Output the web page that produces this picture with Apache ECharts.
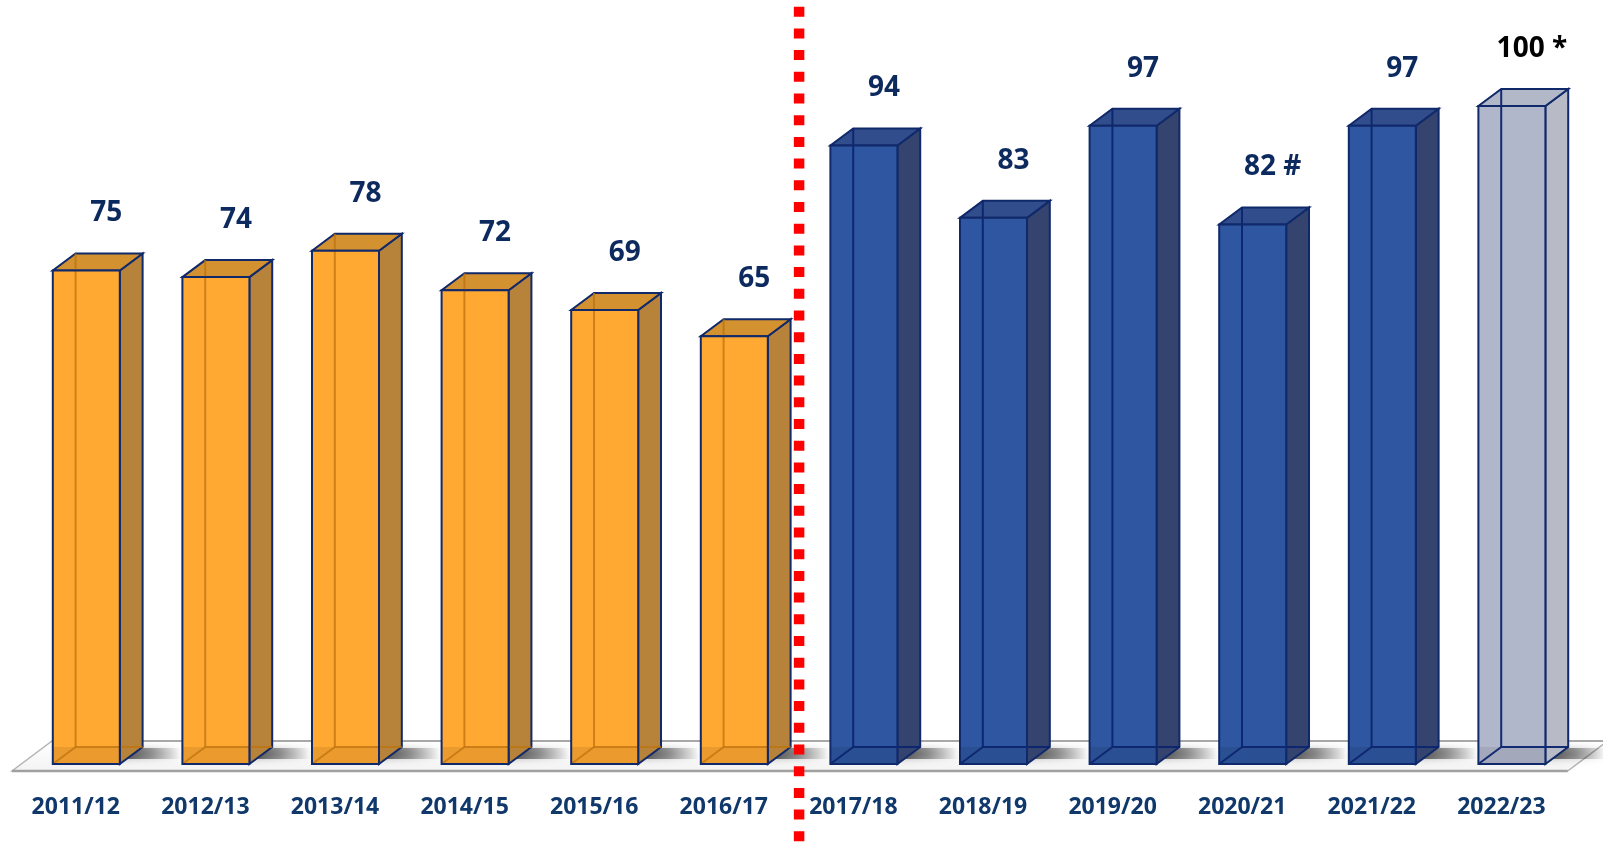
<!DOCTYPE html>
<html><head><meta charset="utf-8">
<script src="https://cdn.jsdelivr.net/npm/echarts@6/dist/echarts.min.js"></script>
<style>html,body{margin:0;padding:0;background:#fff}#c{width:1603px;height:851px}</style>
</head><body><div id="c"></div>
<script>
const categories = ['2011/12','2012/13','2013/14','2014/15','2015/16','2016/17','2017/18','2018/19','2019/20','2020/21','2021/22','2022/23'];
const values = [75, 74, 78, 72, 69, 65, 94, 83, 97, 82, 97, 100];
const valueLabels = ['75','74','78','72','69','65','94','83','97','82 #','97','100 *'];
const groups = ['old','old','old','old','old','old','new','new','new','new','new','est'];
const breakAfter = '2016/17';

const palette = {
  old: {front:'#FFA932', side:'#B7823A', top:'#D3912F', hidden:'rgba(190,115,15,0.75)', label:'#0D2A5F'},
  new: {front:'#2F56A0', side:'#34446F', top:'#314D8B', hidden:'rgba(10,35,110,0.9)', label:'#0D2A5F'},
  est: {front:'#B1B7CB', side:'#B8BBC6', top:'#B3B8C9', hidden:'rgba(10,35,110,0.95)', label:'#000000'}
};
const edge = '#10296A';
const FONT = '"Open Sans", Lato, sans-serif';

const chart = echarts.init(document.getElementById('c'));

function barItem(params, api){
  const i = api.value(0), v = api.value(1);
  const base = api.coord([i, 0]);
  const topP = api.coord([i, v]);
  const band = api.size([1, 0])[0];
  const w = band * 0.517, dx = band * 0.176, dy = -17;
  const x0 = base[0] - w/2, x1 = base[0] + w/2, yb = base[1], yt = topP[1];
  const p = palette[groups[i]];
  const line = (a,b,c,d,col,lw) => ({type:'line', shape:{x1:a,y1:b,x2:c,y2:d}, style:{stroke:col, lineWidth:lw||2}});
  return {type:'group', children:[
    {type:'rect', shape:{x:x1, y:yb+dy+1, width:dx+38, height:11},
     style:{fill:{type:'linear',x:0,y:0,x2:1,y2:0,colorStops:[{offset:0,color:'rgba(0,0,0,0.6)'},{offset:0.5,color:'rgba(0,0,0,0.35)'},{offset:1,color:'rgba(0,0,0,0)'}]},
            shadowBlur:7, shadowColor:'rgba(0,0,0,0.5)'}},
    {type:'polygon', shape:{points:[[x1,yb],[x1+dx,yb+dy],[x1+dx,yt+dy],[x1,yt]]}, style:{fill:p.side, stroke:edge, lineWidth:2}},
    {type:'polygon', shape:{points:[[x0,yt],[x1,yt],[x1+dx,yt+dy],[x0+dx,yt+dy]]}, style:{fill:p.top, stroke:edge, lineWidth:2}},
    {type:'rect', shape:{x:x0, y:yt, width:w, height:yb-yt}, style:{fill:p.front}},
    {type:'rect', shape:{x:x0, y:yb+dy, width:w, height:-dy}, style:{fill:'rgba(0,0,0,0.08)'}},
    line(x0+dx, yb+dy, x0+dx, yt+dy, p.hidden, 2),
    line(x0+dx, yb+dy, x1+dx, yb+dy, p.hidden, 2),
    line(x0, yb, x0+dx, yb+dy, p.hidden, 2),
    {type:'rect', shape:{x:x0, y:yt, width:w, height:yb-yt}, style:{fill:'none', stroke:edge, lineWidth:2}},
    {type:'text', style:{text:valueLabels[i], x:base[0]+20, y:yt-57, align:'center', verticalAlign:'middle',
      font:'bold 28px ' + FONT, fill:p.label}}
  ]};
}

function floorItem(params, api){
  const n = categories.length;
  const a = api.coord([0, 0]), b = api.coord([n-1, 0]);
  const band = api.size([1, 0])[0];
  const xl = a[0] - band/2 - 9.5, xr = b[0] + band/2 - 9;
  const yf = a[1] + 7, ybk = a[1] - 23, ddx = 40;
  return {type:'group', children:[
    {type:'polygon', shape:{points:[[xl,yf],[xr,yf],[xr+ddx,ybk],[xl+ddx,ybk]]},
     style:{fill:{type:'linear',x:0,y:0,x2:0,y2:1,colorStops:[{offset:0,color:'#ffffff'},{offset:1,color:'#f3f3f3'}]},
            stroke:'#B5B5B5', lineWidth:1.5}},
    {type:'line', shape:{x1:xl+ddx, y1:ybk, x2:xr+ddx, y2:ybk}, style:{stroke:'#A8A8A8', lineWidth:2}},
    {type:'line', shape:{x1:xl, y1:yf, x2:xr, y2:yf}, style:{stroke:'#A0A0A0', lineWidth:2.5}}
  ]};
}

function dividerItem(params, api){
  const k = categories.indexOf(breakAfter);
  const a = api.coord([k, 0]), b = api.coord([k+1, 0]);
  const x = (a[0] + b[0]) / 2;
  return {type:'line', shape:{x1:x, y1:0, x2:x, y2:api.getHeight()},
    style:{stroke:'#FF0000', lineWidth:10.5, lineDash:[10, 11.7], lineDashOffset:15}};
}

chart.setOption({
  animation:false,
  grid:{left:21.5, right:26.3, top:106, bottom:87},
  xAxis:{type:'category', data:categories,
    axisLine:{show:false}, axisTick:{show:false},
    axisLabel:{margin:31, color:'#11386B', fontFamily:FONT, fontWeight:'bold', fontSize:23, lineHeight:24, padding:[0,21,0,0], interval:0}},
  yAxis:{type:'value', min:0, max:100, show:false, splitLine:{show:false}},
  series:[
    {type:'custom', name:'floor', renderItem:floorItem, data:[[0,0]], z:1, clip:false, silent:true},
    {type:'custom', name:'bars', renderItem:barItem, data:values.map((v,i)=>[i,v]), z:2, clip:false, encode:{x:0,y:1}},
    {type:'custom', name:'divider', renderItem:dividerItem, data:[[0,0]], z:3, clip:false, silent:true}
  ]
});
</script></body></html>
